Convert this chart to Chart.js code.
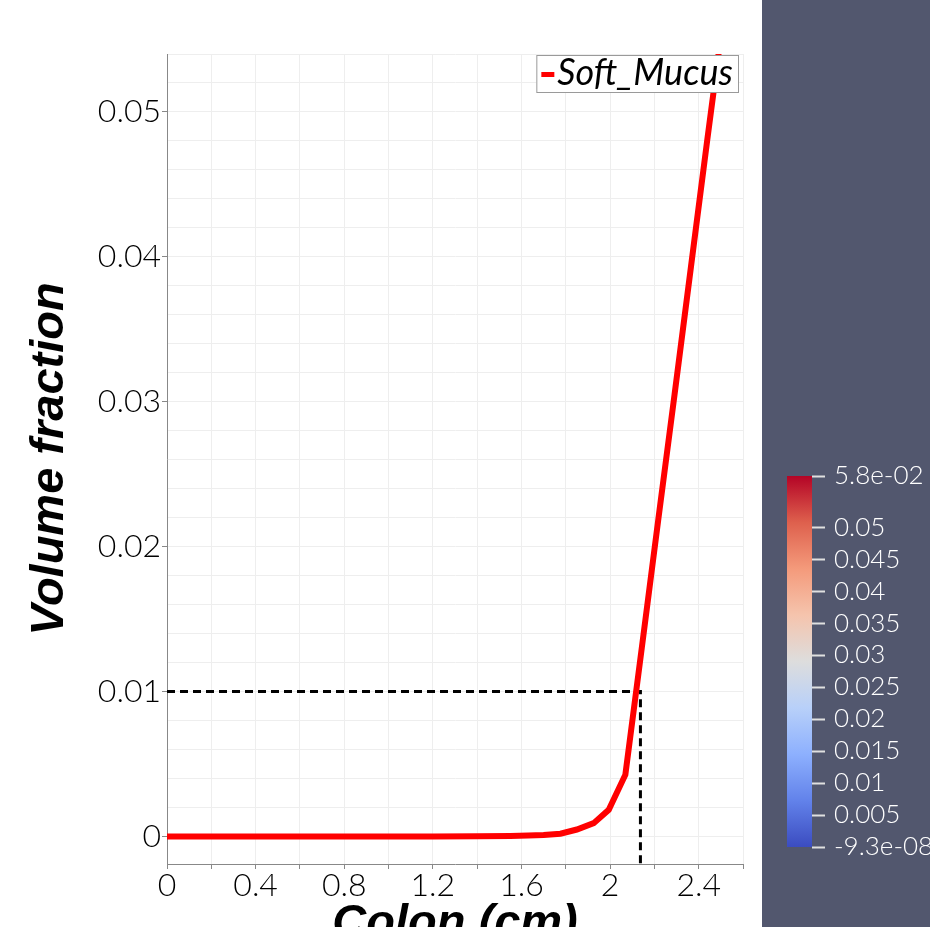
<!DOCTYPE html>
<html>
<head>
<meta charset="utf-8">
<script src="https://cdn.jsdelivr.net/npm/chart.js@4.4.1/dist/chart.umd.min.js"></script>
<style>
  html, body { margin: 0; padding: 0; background: #fff; }
  #wrap { position: relative; width: 930px; height: 927px; overflow: hidden; }
  #main { position: absolute; left: 0; top: 0; }
  #bar { position: absolute; left: 762px; top: 0; background: #52576e; }
</style>
</head>
<body>
<div id="wrap">
  <canvas id="main" width="762" height="927"></canvas>
  <canvas id="bar" width="168" height="927"></canvas>
</div>
<script>
// === Data ===
const colonCm   = [0, 0.4, 0.8, 1.2, 1.4, 1.55, 1.63, 1.70, 1.776, 1.85, 1.926, 1.994, 2.069, 2.143, 2.217, 2.291, 2.365, 2.439, 2.524];
const softMucus = [0, 0, 0, 0, 0.00001, 0.00003, 0.00006, 0.0001, 0.00019, 0.00048, 0.00092, 0.00184, 0.00426, 0.0130, 0.0218, 0.0305, 0.0393, 0.0481, 0.058];

const refX = 2.137;   // dashed guide
const refY = 0.01;

const xLabels = [0, 0.4, 0.8, 1.2, 1.6, 2, 2.4];
const yLabels = [0, 0.01, 0.02, 0.03, 0.04, 0.05];
const xMin = 0, xMax = 2.6, xStep = 0.2;
const yMin = -0.0019, yMax = 0.054, yStep = 0.002;

const colorTicks      = [-9.3e-8, 0.005, 0.01, 0.015, 0.02, 0.025, 0.03, 0.035, 0.04, 0.045, 0.05, 0.058];
const colorTickLabels = ['-9.3e-08', '0.005', '0.01', '0.015', '0.02', '0.025', '0.03', '0.035', '0.04', '0.045', '0.05', '5.8e-02'];
// cool to warm
const coolWarm = [
  [0.0, 'rgb(59,76,192)'], [0.125, 'rgb(98,130,234)'], [0.25, 'rgb(141,176,254)'],
  [0.375, 'rgb(184,208,249)'], [0.5, 'rgb(221,221,221)'], [0.625, 'rgb(245,196,173)'],
  [0.75, 'rgb(244,154,123)'], [0.875, 'rgb(222,96,77)'], [1.0, 'rgb(180,4,38)']
];

const lightFamily = '"Lato Light", "DejaVu Sans ExtraLight", Lato';
const tickFont = { family: lightFamily, size: 32, weight: '300' };
const titleFont = { family: 'Liberation Sans', size: 47, weight: 'bold', style: 'italic' };

function gridValues(from, to, step, digits) {
  const out = [];
  for (let i = 0; from + i * step <= to + 1e-9; i++) out.push(+(from + i * step).toFixed(digits));
  return out;
}
function isLabel(list, v) {
  return list.some(l => Math.abs(l - v) < 1e-9);
}

// === Legend inside the plot ===
const legendBox = {
  id: 'legendBox',
  afterDraw(chart) {
    const c = chart.ctx, a = chart.chartArea;
    c.save();
    c.font = 'italic 36px Lato';
    const w = c.measureText('Soft_Mucus').width;
    const right = a.right - 4, top = a.top + 1, h = 38;
    const left = right - w - 27;
    c.fillStyle = '#fff';
    c.fillRect(left, top, right - left, h);
    c.strokeStyle = '#9a9a9a';
    c.lineWidth = 1;
    c.strokeRect(left + 0.5, top + 0.5, right - left - 1, h - 1);
    c.fillStyle = '#ff0000';
    c.fillRect(left + 5, top + 17, 13, 5);
    c.fillStyle = '#000';
    c.textBaseline = 'alphabetic';
    c.fillText('Soft_Mucus', left + 21, top + 30);
    c.restore();
  }
};

// === Main chart ===
new Chart(document.getElementById('main'), {
  type: 'scatter',
  data: {
    datasets: [
      {
        label: 'Soft_Mucus',
        data: colonCm.map((x, i) => ({ x: x, y: softMucus[i] })),
        showLine: true,
        borderColor: '#ff0000',
        borderWidth: 6,
        pointRadius: 0,
        order: 0
      },
      {
        label: 'guide',
        data: [{ x: 0, y: refY }, { x: refX, y: refY }, { x: refX, y: yMin }],
        showLine: true,
        borderColor: '#000',
        borderWidth: 3,
        borderDash: [8, 5],
        pointRadius: 0,
        order: 1
      }
    ]
  },
  options: {
    responsive: false,
    animation: false,
    devicePixelRatio: 1,
    layout: { padding: { top: 54, right: 19, left: 0, bottom: 0 } },
    plugins: { legend: { display: false }, tooltip: { enabled: false } },
    scales: {
      x: {
        type: 'linear',
        min: xMin,
        max: xMax,
        afterFit: s => { s.height = 63; },
        afterBuildTicks: s => { s.ticks = gridValues(xMin, xMax, xStep, 1).map(v => ({ value: v })); },
        grid: { color: '#eeeeee', tickLength: 5, tickColor: '#888' },
        border: { color: '#888' },
        ticks: {
          font: tickFont, color: '#000', padding: -3, maxRotation: 0, autoSkip: false,
          callback: v => isLabel(xLabels, v) ? String(v) : ''
        },
        title: { display: true, text: 'Colon (cm)', font: titleFont, color: '#000', padding: { top: 0, bottom: -25 } }
      },
      y: {
        type: 'linear',
        min: yMin,
        max: yMax,
        afterFit: s => { s.width = 167; },
        afterBuildTicks: s => { s.ticks = gridValues(0, yMax, yStep, 3).map(v => ({ value: v })); },
        grid: {
          color: '#eeeeee', tickLength: 5,
          tickColor: ctx => (ctx.tick && isLabel(yLabels, ctx.tick.value)) ? '#888' : 'rgba(0,0,0,0)'
        },
        border: { color: '#888' },
        ticks: {
          font: tickFont, color: '#000', padding: 1, autoSkip: false,
          callback: v => isLabel(yLabels, v) ? String(v) : ''
        },
        title: { display: true, text: 'Volume fraction', font: titleFont, color: '#000', padding: { top: 22, bottom: 0 } }
      }
    }
  },
  plugins: [legendBox]
});

// === Colour bar ===
new Chart(document.getElementById('bar'), {
  type: 'bar',
  data: {
    labels: [''],
    datasets: [{
      data: [[colorTicks[0], colorTicks[colorTicks.length - 1]]],
      backgroundColor: ctx => {
        const a = ctx.chart.chartArea;
        if (!a) return '#888';
        const g = ctx.chart.ctx.createLinearGradient(0, a.bottom, 0, a.top);
        coolWarm.forEach(s => g.addColorStop(s[0], s[1]));
        return g;
      },
      borderWidth: 0,
      barPercentage: 1,
      categoryPercentage: 1
    }]
  },
  options: {
    responsive: false,
    animation: false,
    devicePixelRatio: 1,
    layout: { padding: { left: 25, top: 476, bottom: 80, right: 0 } },
    plugins: { legend: { display: false }, tooltip: { enabled: false } },
    scales: {
      x: { display: false },
      y: {
        position: 'right',
        min: colorTicks[0],
        max: colorTicks[colorTicks.length - 1],
        afterFit: s => { s.width = 118; },
        afterBuildTicks: s => { s.ticks = colorTicks.map(v => ({ value: v })); },
        grid: { drawOnChartArea: false, tickLength: 13, tickColor: '#e0e0e0', tickWidth: 2 },
        border: { display: false },
        ticks: {
          color: '#fff', font: { family: lightFamily, size: 26, weight: '300' }, padding: 9, autoSkip: false,
          callback: (v, i) => colorTickLabels[i]
        }
      }
    }
  }
});
</script>
</body>
</html>
